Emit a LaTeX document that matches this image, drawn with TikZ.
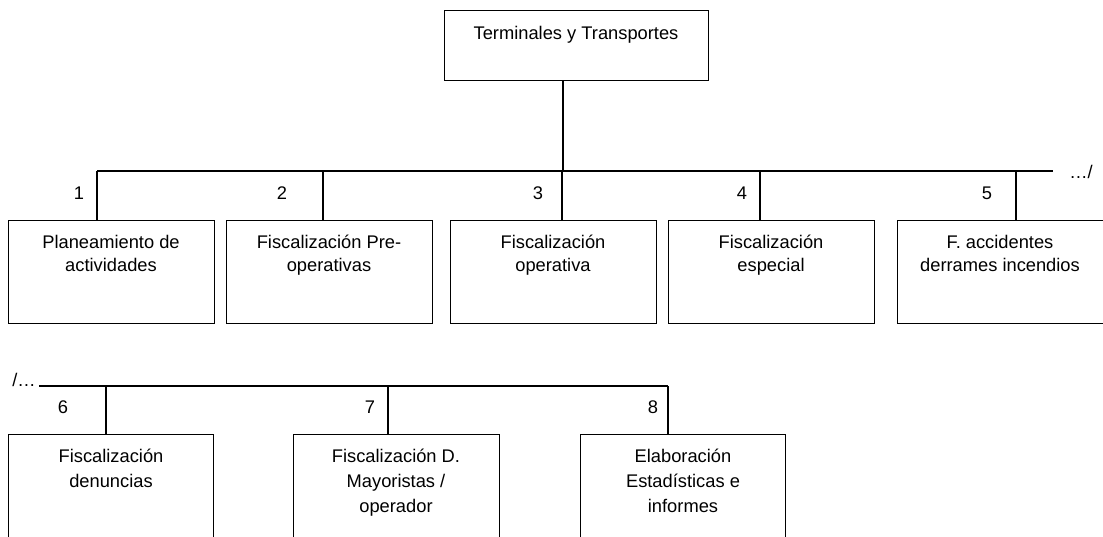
\documentclass[tikz,border=0pt]{standalone}
\usepackage{fontspec}
\setmainfont{Liberation Sans}
\newcommand{\mlines}[1]{\begin{tabular}[t]{@{}c@{}}#1\end{tabular}}
\begin{document}
\begin{tikzpicture}[x=1pt,y=-1pt,
  line width=1.4pt,
  orgbox/.style={draw, rectangle, anchor=north west, inner sep=0pt, minimum width=206pt},
  rowone/.style={orgbox, minimum height=103pt},
  rowtwo/.style={orgbox, minimum height=140pt},
  boxtext/.style={anchor=base, inner sep=0pt, font=\fontsize{18.3}{23}\selectfont},
  boxtexttwo/.style={anchor=base, inner sep=0pt, font=\fontsize{18.3}{25}\selectfont},
  numlabel/.style={anchor=base, inner sep=0pt, font=\fontsize{18.3}{22}\selectfont}]
\useasboundingbox (0,0) rectangle (1103,536);
\clip (0,0) rectangle (1103,536);

% top box
\node[orgbox, minimum width=264pt, minimum height=70pt] (top) at (444,10) {};
\node[boxtext] (toptext) at (576,39) {Terminales y Transportes};

% first row bus
\coordinate (busL) at (97,171);
\coordinate (busR) at (1053,171);
\coordinate (t0) at (563,171);
\draw (top.south -| t0) -- (t0);
\draw (busL) -- (busR);
\node[numlabel] (cont1) at (1081,178) {…/};

% row 1 boxes
\node[rowone] (b1) at (8,220) {};
\node[rowone] (b2) at (226,220) {};
\node[rowone] (b3) at (450,220) {};
\node[rowone] (b4) at (668,220) {};
\node[rowone, minimum width=210pt] (b5) at (897,220) {};

\coordinate (j1) at (97,171);
\coordinate (j2) at (323,171);
\coordinate (j3) at (562,171);
\coordinate (j4) at (760,171);
\coordinate (j5) at (1016,171);
\foreach \i in {1,...,5} {\draw (j\i) -- (j\i |- b\i.north);}

\node[numlabel] (n1) at (79,199) {1};
\node[numlabel] (n2) at (282,199) {2};
\node[numlabel] (n3) at (538,199) {3};
\node[numlabel] (n4) at (742,199) {4};
\node[numlabel] (n5) at (987,199) {5};

\node[boxtext] (t1) at (111,248) {\mlines{Planeamiento de\\actividades}};
\node[boxtext] (t2) at (329,248) {\mlines{Fiscalización Pre-\\operativas}};
\node[boxtext] (t3) at (553,248) {\mlines{Fiscalización\\operativa}};
\node[boxtext] (t4) at (771,248) {\mlines{Fiscalización\\especial}};
\node[boxtext] (t5) at (1000,248) {\mlines{F. accidentes\\derrames incendios}};

% second row bus
\node[numlabel] (cont2) at (24,386) {/…};
\coordinate (bus2L) at (39,386);
\coordinate (k6) at (106,386);
\coordinate (k7) at (388,386);
\coordinate (k8) at (668,386);
\draw (bus2L) -- (k8);

\node[rowtwo, minimum width=205pt] (b6) at (8,434) {};
\node[rowtwo, minimum width=206pt] (b7) at (293,434) {};
\node[rowtwo, minimum width=205pt] (b8) at (580,434) {};
\foreach \i in {6,7,8} {\draw (k\i) -- (k\i |- b\i.north);}

\node[numlabel] (n6) at (63,413) {6};
\node[numlabel] (n7) at (370,413) {7};
\node[numlabel] (n8) at (653,413) {8};

\node[boxtexttwo] (t6) at (111,462) {\mlines{Fiscalización\\denuncias}};
\node[boxtexttwo] (t7) at (396,462) {\mlines{Fiscalización D.\\Mayoristas /\\operador}};
\node[boxtexttwo] (t8) at (683,462) {\mlines{Elaboración\\Estadísticas e\\informes}};
\end{tikzpicture}
\end{document}
